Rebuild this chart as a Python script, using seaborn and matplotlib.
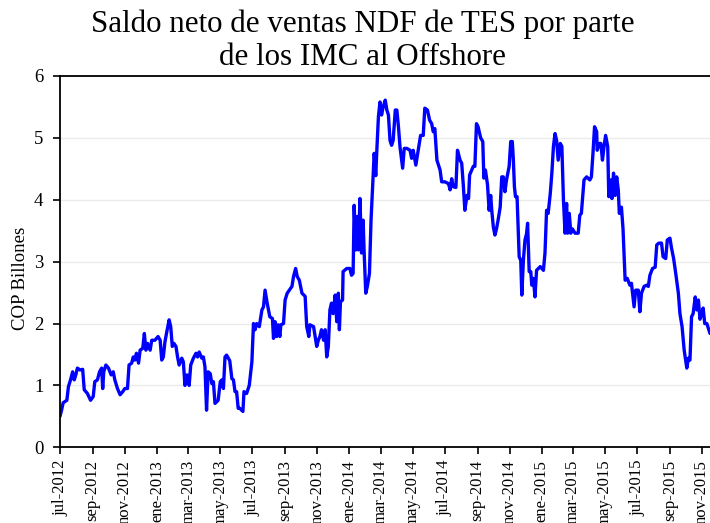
import numpy as np
import pandas as pd
import matplotlib
matplotlib.use("Agg")
import matplotlib.pyplot as plt
import matplotlib.dates as mdates
import seaborn as sns

dias = [0, 3, 6, 13, 16, 20, 24, 27, 30, 33, 38, 43, 46, 52, 58, 63, 66, 71, 75, 79,
        81, 83, 87, 92, 97, 101, 104, 109, 114, 119, 123, 128, 131, 136, 139, 142, 145, 149, 152, 157,
        160, 163, 166, 171, 174, 180, 186, 190, 193, 196, 199, 202, 207, 210, 213, 216, 220, 223, 226, 231,
        234, 237, 241, 245, 248, 253, 258, 261, 264, 269, 272, 275, 278, 281, 285, 288, 291, 294, 300, 304,
        307, 310, 313, 316, 322, 326, 329, 332, 335, 338, 341, 347, 349, 354, 359, 364, 367, 370, 373, 378,
        383, 386, 389, 393, 398, 403, 405, 408, 411, 414, 417, 419, 424, 427, 431, 435, 440, 443, 447, 450,
        454, 459, 465, 468, 472, 474, 481, 484, 487, 490, 493, 496, 500, 503, 506, 509, 512, 515, 518, 522,
        525, 528, 530, 532, 536, 537, 544, 550, 553, 556, 558, 561, 564, 566, 569, 572, 575, 577, 580, 583,
        587, 590, 594, 596, 599, 601, 604, 607, 610, 613, 617, 620, 623, 626, 629, 632, 636, 639, 642, 645,
        650, 653, 658, 664, 667, 670, 675, 680, 684, 689, 692, 697, 701, 705, 708, 711, 715, 721, 724, 730,
        737, 740, 743, 746, 751, 754, 759, 762, 765, 768, 772, 775, 777, 784, 787, 790, 793, 798, 802, 804,
        807, 811, 814, 817, 819, 822, 825, 828, 831, 835, 838, 841, 844, 847, 852, 855, 858, 860, 862, 864,
        867, 871, 874, 876, 879, 882, 885, 887, 890, 893, 895, 898, 901, 904, 911, 917, 920, 923, 926, 930,
        933, 936, 939, 942, 945, 949, 952, 955, 958, 961, 963, 966, 969, 972, 977, 983, 986, 989, 994, 999,
        1005, 1008, 1011, 1014, 1018, 1019, 1023, 1026, 1029, 1032, 1035, 1039, 1041, 1045, 1047, 1050, 1053, 1056, 1059, 1061,
        1065, 1068, 1072, 1076, 1081, 1084, 1089, 1092, 1097, 1100, 1103, 1108, 1113, 1116, 1119, 1124, 1129, 1132, 1136, 1141,
        1144, 1149, 1152, 1157, 1160, 1164, 1168, 1173, 1176, 1180, 1184, 1189, 1192, 1195, 1198, 1201, 1205, 1208, 1211, 1214,
        1217, 1220, 1223, 1227, 1233]

# Net balance (COP billones)
saldo = [0.50, 0.60, 0.72, 0.76, 0.98, 1.09, 1.22, 1.09, 1.17, 1.28, 1.25, 1.26, 0.93, 0.87, 0.76, 0.82, 1.06, 1.09, 1.22, 1.28,
         0.95, 1.22, 1.33, 1.28, 1.17, 1.22, 1.09, 0.95, 0.85, 0.90, 0.95, 0.95, 1.33, 1.36, 1.46, 1.41, 1.52, 1.36, 1.57, 1.60,
         1.84, 1.57, 1.68, 1.57, 1.73, 1.73, 1.79, 1.73, 1.41, 1.46, 1.70, 1.84, 2.06, 1.95, 1.63, 1.68, 1.63, 1.46, 1.33, 1.44,
         1.38, 1.00, 1.17, 1.00, 1.33, 1.44, 1.52, 1.46, 1.54, 1.44, 1.46, 1.30, 0.60, 1.22, 1.19, 1.03, 1.06, 0.71, 0.76, 1.06,
         1.09, 0.95, 1.46, 1.49, 1.40, 1.11, 1.09, 0.90, 0.90, 0.63, 0.63, 0.58, 0.90, 0.87, 1.00, 1.38, 2.00, 1.90, 2.00, 1.95,
         2.22, 2.27, 2.54, 2.33, 2.11, 2.08, 1.76, 2.03, 1.79, 1.98, 1.79, 1.98, 2.00, 2.38, 2.49, 2.54, 2.60, 2.76, 2.89, 2.76,
         2.70, 2.49, 2.44, 1.95, 1.79, 1.98, 1.95, 1.79, 1.63, 1.73, 1.79, 1.90, 1.73, 1.90, 1.46, 1.63, 2.22, 2.33, 2.16, 2.46,
         2.03, 2.49, 1.90, 2.35, 2.38, 2.84, 2.89, 2.89, 2.78, 2.81, 3.91, 3.19, 3.73, 3.19, 4.02, 3.14, 3.67, 3.14, 2.49, 2.60,
         2.81, 3.67, 4.37, 4.75, 4.39, 4.80, 5.34, 5.58, 5.37, 5.50, 5.61, 5.45, 5.37, 4.96, 4.88, 4.96, 5.45, 5.45, 5.18, 4.85,
         4.51, 4.83, 4.83, 4.80, 4.67, 4.80, 4.56, 4.83, 5.04, 5.04, 5.48, 5.45, 5.29, 5.23, 5.10, 5.15, 4.64, 4.48, 4.29, 4.29,
         4.26, 4.16, 4.34, 4.21, 4.20, 4.80, 4.64, 4.59, 4.24, 3.83, 4.07, 4.02, 4.40, 4.54, 4.54, 5.23, 5.18, 5.00, 4.94, 4.35,
         4.48, 4.24, 3.83, 4.07, 3.83, 3.56, 3.43, 3.53, 3.67, 3.88, 4.37, 4.37, 4.13, 4.32, 4.54, 4.94, 4.94, 4.64, 4.21, 4.05,
         4.05, 3.08, 3.02, 2.46, 3.02, 3.35, 3.45, 3.62, 2.84, 2.84, 2.62, 2.73, 2.43, 2.86, 2.92, 2.86, 3.14, 3.83, 3.78, 4.10,
         4.43, 4.86, 5.07, 4.96, 4.64, 4.91, 4.86, 4.00, 3.46, 3.94, 3.46, 3.78, 3.46, 3.53, 3.46, 3.46, 3.75, 3.78, 4.32, 4.37,
         4.32, 4.37, 4.75, 5.18, 5.10, 4.80, 4.91, 4.91, 4.64, 4.86, 5.04, 4.86, 4.05, 4.32, 4.02, 4.43, 4.07, 4.37, 4.16, 3.78,
         3.88, 3.53, 2.70, 2.73, 2.62, 2.65, 2.27, 2.54, 2.54, 2.19, 2.49, 2.60, 2.62, 2.60, 2.78, 2.89, 2.91, 3.27, 3.30, 3.30,
         3.08, 3.05, 3.35, 3.38, 3.22, 3.05, 2.81, 2.49, 2.16, 1.95, 1.57, 1.28, 1.44, 1.41, 2.11, 2.16, 2.43, 2.22, 2.38, 2.07,
         2.15, 2.25, 2.00, 2.00, 1.84]

meses = ["ene", "feb", "mar", "abr", "may", "jun", "jul", "ago", "sep", "oct", "nov", "dic"]
titulo = "Saldo neto de ventas NDF de TES por parte\nde los IMC al Offshore"
ylabel = "COP Billones"

inicio = pd.Timestamp("2012-07-01")
df = pd.DataFrame({"fecha": inicio + pd.to_timedelta(dias, unit="D"), "saldo": saldo})

sns.set_theme(style="white")
plt.rcParams["font.family"] = ["Liberation Serif", "DejaVu Serif"]

fig = plt.figure(figsize=(7.10, 5.23), dpi=100)
ax = fig.add_axes([0.0845, 0.1447, 0.9155, 0.7100])

sns.lineplot(data=df, x="fecha", y="saldo", ax=ax, color="#0000FF", linewidth=2.4)

ax.set_ylim(0, 6)
ax.set_yticks(range(0, 7))
ax.set_xlim(df["fecha"].iloc[0], df["fecha"].iloc[-1])

ticks = pd.date_range("2012-07-01", "2015-11-01", freq="2MS")
ax.set_xticks(ticks)
ax.set_xticklabels([f"{meses[t.month - 1]}-{t.year}" for t in ticks], rotation=90, fontsize=12)
ax.tick_params(axis="y", labelsize=13.5, pad=7)
ax.tick_params(axis="x", pad=4)
ax.tick_params(axis="both", direction="out", length=5, width=1.2, colors="black", bottom=True, left=True)

ax.yaxis.grid(True, color="#ebebeb", linewidth=1.0)
ax.xaxis.grid(False)
for s in ["left", "bottom", "top"]:
    ax.spines[s].set_visible(True)
    ax.spines[s].set_color("black")
    ax.spines[s].set_linewidth(1.3)
ax.spines["right"].set_visible(False)

ax.set_xlabel("")
ax.set_ylabel(ylabel, fontsize=13.5, color="black")
ax.yaxis.set_label_coords(-0.048, 0.456)

fig.text(0.511, 0.982, titulo, ha="center", va="top", fontsize=22.3, color="black", linespacing=1.2)

fig.savefig("out.png", dpi=100)
